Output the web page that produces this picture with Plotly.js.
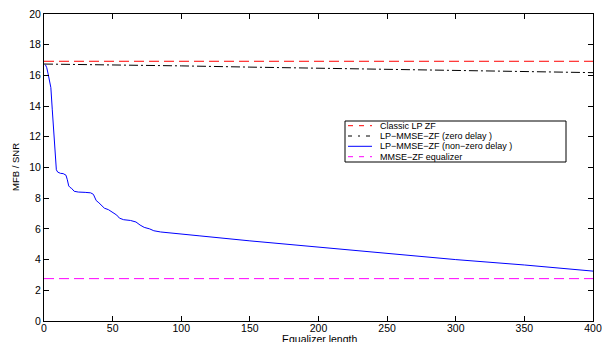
<!DOCTYPE html>
<html>
<head>
<meta charset="utf-8">
<script src="https://cdn.plot.ly/plotly-3.0.1.min.js"></script>
<style>html,body{margin:0;padding:0;background:#fff;}#chart{width:602px;height:342px;}</style>
</head>
<body>
<div id="chart"></div>
<script>
// Data
const classicX = [0, 400];
const classicY = [16.92, 16.92];

const zeroDelayX = [0, 50, 100, 150, 200, 250, 300, 350, 400];
const zeroDelayY = [16.74, 16.7, 16.62, 16.54, 16.46, 16.38, 16.3, 16.24, 16.18];

const nonZeroX = [1, 2, 3, 4, 5, 6, 7, 8, 8.5, 9, 10, 12, 14, 16, 17, 18, 19, 20, 22, 25, 30, 34, 36, 37, 38, 40, 42, 44, 47, 50, 53, 55, 58, 63, 67, 70, 73, 77, 80, 85, 90, 100, 113, 150, 200, 250, 300, 350, 400];
const nonZeroY = [16.7, 16.5, 16.1, 15.6, 15.2, 13.8, 12.2, 10.6, 10.0, 9.85, 9.7, 9.62, 9.6, 9.5, 9.2, 8.8, 8.7, 8.65, 8.45, 8.4, 8.38, 8.35, 8.25, 8.05, 7.85, 7.7, 7.5, 7.35, 7.25, 7.1, 6.9, 6.7, 6.6, 6.55, 6.45, 6.25, 6.1, 6.0, 5.88, 5.8, 5.75, 5.67, 5.55, 5.22, 4.82, 4.38, 4.0, 3.65, 3.25];

const mmseX = [0, 400];
const mmseY = [2.76, 2.76];

const seriesNames = ['Classic LP ZF', 'LP\u2212MMSE\u2212ZF (zero delay )', 'LP\u2212MMSE\u2212ZF (non\u2212zero delay )', 'MMSE\u2212ZF equalizer'];
const seriesColors = ['#ff0000', '#000000', '#0000ff', '#ff00ff'];
const seriesDash = ['10px,5px', '9px,3px,2px,3px', 'solid', '10px,5px'];
const legendDash = ['5px,6px', '4px,6px,2px,6px', 'solid', '5px,6px'];

const xTicks = [0, 50, 100, 150, 200, 250, 300, 350, 400];
const yTicks = [0, 2, 4, 6, 8, 10, 12, 14, 16, 18, 20];

const xTitle = 'Equalizer length';
const yTitle = 'MFB / SNR';

const font = "'Liberation Sans', Arial, Helvetica, sans-serif";

const xs = [classicX, zeroDelayX, nonZeroX, mmseX];
const ys = [classicY, zeroDelayY, nonZeroY, mmseY];

const traces = xs.map((x, i) => ({
  x: x, y: ys[i], mode: 'lines', name: seriesNames[i], showlegend: false,
  line: {color: seriesColors[i], width: 1, dash: seriesDash[i]}
}));

// Plot area in pixels: left 44, right 593, top 14, bottom 321
const plotL = 44, plotW = 549, plotB = 321, plotH = 307;
const px2x = p => (p - plotL) / plotW;
const px2y = p => (plotB - p) / plotH;

// Legend box drawn manually (matches the compact MATLAB-style legend)
const legBox = {l: 345, r: 566, t: 121, b: 162};
const rowY = [125.7, 136, 146.3, 156.7];
const shapes = [{
  type: 'rect', xref: 'paper', yref: 'paper',
  x0: px2x(legBox.l), x1: px2x(legBox.r), y0: px2y(legBox.b), y1: px2y(legBox.t),
  line: {color: '#000', width: 1}, fillcolor: '#fff', layer: 'above'
}];
const annotations = [];
seriesNames.forEach((n, i) => {
  shapes.push({
    type: 'line', xref: 'paper', yref: 'paper',
    x0: px2x(348), x1: px2x(372), y0: px2y(rowY[i]), y1: px2y(rowY[i]),
    line: {color: seriesColors[i], width: 1, dash: legendDash[i]}, layer: 'above'
  });
  annotations.push({
    text: n, xref: 'paper', yref: 'paper', x: px2x(379), y: px2y(rowY[i]),
    xanchor: 'left', yanchor: 'middle', showarrow: false, borderpad: 0,
    font: {family: font, size: 9, color: '#000'}
  });
});
annotations.push({
  text: xTitle, xref: 'paper', yref: 'paper', x: px2x(319.5), y: px2y(339),
  xanchor: 'center', yanchor: 'middle', showarrow: false, borderpad: 0,
  font: {family: font, size: 10.5, color: '#000'}
});
annotations.push({
  text: yTitle, xref: 'paper', yref: 'paper', x: px2x(15), y: px2y(167),
  xanchor: 'center', yanchor: 'middle', showarrow: false, textangle: -90,
  font: {family: font, size: 9.5, color: '#000'}
});

const axisCommon = {
  showline: true, linecolor: '#000', linewidth: 1, mirror: 'ticks',
  ticks: 'inside', ticklen: 5, tickcolor: '#000', tickwidth: 1,
  showgrid: false, zeroline: false, ticklabeloverflow: 'allow',
  tickfont: {family: font, size: 10.5, color: '#000'}
};

const layout = {
  width: 602, height: 342,
  margin: {l: plotL, r: 602 - plotL - plotW, t: 14, b: 342 - plotB},
  paper_bgcolor: '#fff', plot_bgcolor: '#fff',
  font: {family: font, size: 10.5, color: '#000'},
  showlegend: false,
  shapes: shapes,
  annotations: annotations,
  xaxis: Object.assign({}, axisCommon, {
    range: [0, 400], tickmode: 'array', tickvals: xTicks, ticktext: xTicks.map(String),
    ticklabelstandoff: -3
  }),
  yaxis: Object.assign({}, axisCommon, {
    range: [0, 20], tickmode: 'array', tickvals: yTicks, ticktext: yTicks.map(String)
  })
};

Plotly.newPlot('chart', traces, layout, {staticPlot: true, displayModeBar: false});
</script>
</body>
</html>
